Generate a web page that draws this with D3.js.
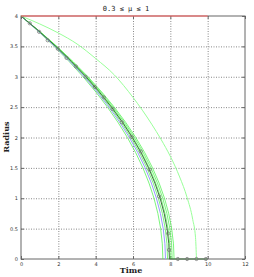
<!DOCTYPE html>
<html>
<head>
<meta charset="utf-8">
<script src="https://cdn.jsdelivr.net/npm/d3@7"></script>
<style>
  body { margin: 0; background: #fff; }
  svg { display: block; }
</style>
</head>
<body>
<div id="chart"></div>
<script>
// Radius levels shared by the smooth runs (R = 4 ... 0)
const radiusLevels = [4, 3.75, 3.5, 3.25, 3, 2.75, 2.5, 2.25, 2, 1.75, 1.5, 1.25, 1, 0.75, 0.5, 0.25, 0];

// Time at which each green run reaches the radius levels above
const greenRuns = [
  [0, 0.920, 1.781, 2.582, 3.325, 4.007, 4.631, 5.195, 5.700, 6.145, 6.531, 6.857, 7.125, 7.332, 7.481, 7.570, 7.60],
  [0, 0.951, 1.840, 2.667, 3.434, 4.139, 4.784, 5.366, 5.888, 6.348, 6.746, 7.083, 7.359, 7.574, 7.728, 7.819, 7.85],
  [0, 0.969, 1.875, 2.718, 3.500, 4.218, 4.875, 5.469, 6.000, 6.469, 6.875, 7.218, 7.500, 7.718, 7.875, 7.969, 8.00],
  [0, 0.981, 1.899, 2.752, 3.544, 4.271, 4.936, 5.537, 6.075, 6.550, 6.961, 7.309, 7.594, 7.815, 7.974, 8.068, 8.10],
  [0, 0.993, 1.922, 2.786, 3.588, 4.324, 4.997, 5.606, 6.150, 6.631, 7.047, 7.399, 7.688, 7.911, 8.072, 8.168, 8.20]
];
const blueRun = [0, 0.937, 1.814, 2.630, 3.386, 4.081, 4.717, 5.291, 5.805, 6.259, 6.652, 6.984, 7.256, 7.468, 7.619, 7.710, 7.74];
const meanRun = [0, 0.963, 1.863, 2.701, 3.478, 4.192, 4.845, 5.435, 5.963, 6.428, 6.832, 7.173, 7.453, 7.670, 7.826, 7.919, 7.95];

// Slow outlier run (time, radius)
const outlierTime   = [0, 1, 2, 3, 4, 5, 6, 6.5, 7, 7.5, 8, 8.5, 8.9, 9.2, 9.35, 9.4];
const outlierRadius = [4, 3.87, 3.72, 3.54, 3.3, 3.03, 2.66, 2.45, 2.22, 1.97, 1.69, 1.35, 1.01, 0.65, 0.35, 0];

// Markers on the mean run
const markerTime   = [0.47, 0.97, 1.43, 1.97, 2.44, 2.94, 3.46, 3.96, 4.44, 4.9, 5.4, 5.92, 6.42, 6.9, 7.4, 7.88, 7.93, 8.4, 8.9, 9.4, 9.9];
const markerRadius = [3.88, 3.74, 3.6, 3.46, 3.31, 3.17, 3.0, 2.83, 2.66, 2.47, 2.25, 2.01, 1.77, 1.47, 1.03, 0.42, 0.15, 0, 0, 0, 0];

// Initial radius reference line
const refLine = [[0, 4], [10, 4]];

const xTicks = [0, 2, 4, 6, 8, 10, 12];
const yTicks = [0, 0.5, 1, 1.5, 2, 2.5, 3, 3.5, 4];

const W = 254, H = 277;
const margin = { top: 16, right: 9, bottom: 18, left: 21 };
const w = W - margin.left - margin.right;
const h = H - margin.top - margin.bottom;

const svg = d3.select("#chart").append("svg")
  .attr("width", W).attr("height", H);

const g = svg.append("g").attr("transform", `translate(${margin.left},${margin.top})`);

const x = d3.scaleLinear().domain([0, 12]).range([0, w]);
const y = d3.scaleLinear().domain([0, 4]).range([h, 0]);

// Dotted grid
g.append("g")
  .call(d3.axisBottom(x).tickValues(xTicks.slice(1, -1)).tickSize(h).tickFormat(""))
  .call(s => s.select(".domain").remove())
  .selectAll("line").attr("stroke", "#888").attr("stroke-dasharray", "1,1.5");
g.append("g")
  .call(d3.axisLeft(y).tickValues(yTicks.slice(1, -1)).tickSize(-w).tickFormat(""))
  .call(s => s.select(".domain").remove())
  .selectAll("line").attr("stroke", "#888").attr("stroke-dasharray", "1,1.5");

// Axes with inward ticks
const tickFont = s => s.selectAll("text")
  .attr("font-family", "DejaVu Sans, sans-serif").attr("font-size", 5).attr("fill", "#333");
g.append("g").attr("transform", `translate(0,${h})`)
  .call(d3.axisBottom(x).tickValues(xTicks).tickSize(-3).tickPadding(3))
  .call(s => s.select(".domain").remove())
  .call(s => s.selectAll("line").attr("stroke", "#666"))
  .call(tickFont);
g.append("g")
  .call(d3.axisLeft(y).tickValues(yTicks).tickSize(-3).tickPadding(3).tickFormat(d3.format("~g")))
  .call(s => s.select(".domain").remove())
  .call(s => s.selectAll("line").attr("stroke", "#666"))
  .call(tickFont);
g.append("g").attr("transform", `translate(${w},0)`)
  .call(d3.axisRight(y).tickValues(yTicks).tickSize(-3).tickFormat(""))
  .call(s => s.select(".domain").remove())
  .selectAll("line").attr("stroke", "#666");
g.append("g")
  .call(d3.axisTop(x).tickValues(xTicks).tickSize(-3).tickFormat(""))
  .call(s => s.select(".domain").remove())
  .selectAll("line").attr("stroke", "#666");

// Frame
g.append("rect").attr("width", w).attr("height", h)
  .attr("fill", "none").attr("stroke", "#666").attr("stroke-width", 1);

const line = d3.line().x(d => x(d[0])).y(d => y(d[1]));
const runPoints = times => times.map((t, i) => [t, radiusLevels[i]]);

// Green runs
greenRuns.forEach(run => {
  g.append("path").datum(runPoints(run))
    .attr("fill", "none").attr("stroke", "#44f044").attr("stroke-opacity", 0.7)
    .attr("stroke-width", 1).attr("d", line);
});

// Outlier
g.append("path").datum(outlierTime.map((t, i) => [t, outlierRadius[i]]))
  .attr("fill", "none").attr("stroke", "#99ff99").attr("stroke-width", 1)
  .attr("d", line.curve(d3.curveMonotoneX));
line.curve(d3.curveLinear);

// Blue run
g.append("path").datum(runPoints(blueRun))
  .attr("fill", "none").attr("stroke", "#9999ff").attr("stroke-width", 1).attr("d", line);

// Mean run, continues along the axis
g.append("path").datum(runPoints(meanRun).concat([[10, 0]]))
  .attr("fill", "none").attr("stroke", "#3f6f3f").attr("stroke-width", 1).attr("d", line);

g.selectAll("circle.m").data(markerTime.map((t, i) => [t, markerRadius[i]]))
  .join("circle").attr("class", "m")
  .attr("cx", d => x(d[0])).attr("cy", d => y(d[1])).attr("r", 1.6)
  .attr("fill", "none").attr("stroke", "#777").attr("stroke-width", 0.8);

// Red reference line
g.append("path").datum(refLine)
  .attr("fill", "none").attr("stroke", "#ff6060").attr("stroke-width", 1).attr("d", line);

// Title and labels
svg.append("text").attr("x", 126).attr("y", 11).attr("text-anchor", "middle")
  .attr("font-family", "DejaVu Sans Mono, monospace").attr("font-size", 7).attr("fill", "#222")
  .text("0.3 ≤ μ ≤ 1");
svg.append("text").attr("x", 131).attr("y", 273).attr("text-anchor", "middle")
  .attr("font-family", "DejaVu Serif, serif").attr("font-weight", "bold").attr("font-size", 8).attr("fill", "#222")
  .text("Time");
svg.append("text").attr("transform", "translate(9,137) rotate(-90)").attr("text-anchor", "middle")
  .attr("font-family", "DejaVu Serif, serif").attr("font-weight", "bold").attr("font-size", 8).attr("fill", "#222")
  .text("Radius");
</script>
</body>
</html>
